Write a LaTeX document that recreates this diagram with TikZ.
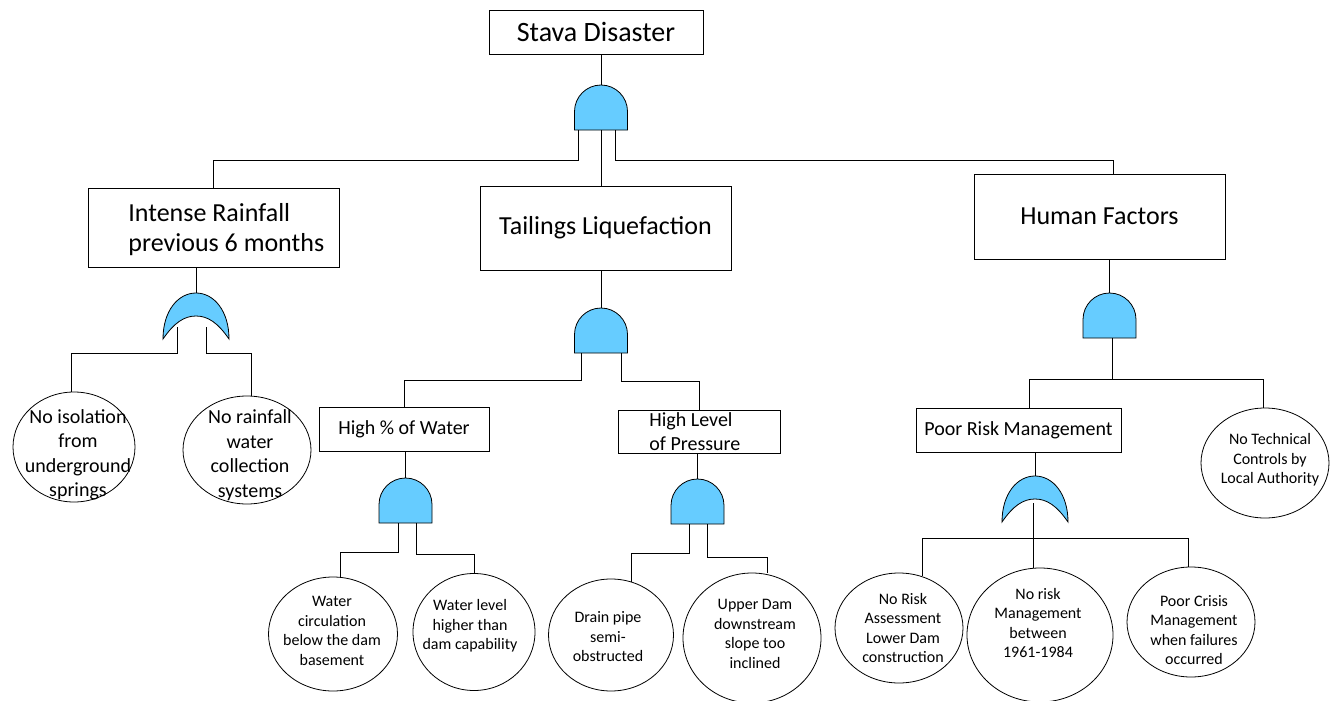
\documentclass[tikz,border=0pt]{standalone}
\usepackage{fontspec}
\setmainfont{Carlito}
\usepackage{tikz}
\usetikzlibrary{shapes.geometric}
\definecolor{gateblue}{RGB}{102,204,255}

\begin{document}
\begin{tikzpicture}[x=1pt, y=-1pt, line width=0.8pt,
    box/.style={draw, rectangle, inner sep=0pt},
    ev/.style={draw, ellipse, inner sep=0pt},
    lbl/.style={inner sep=0pt, align=center},
    toptext/.style={font=\fontsize{28}{32}\selectfont},
    boxtext/.style={font=\fontsize{26}{30}\selectfont},
    subtext/.style={font=\fontsize{20}{24}\selectfont},
    evtext/.style={font=\fontsize{20}{24.5}\selectfont},
    smalltext/.style={font=\fontsize{16}{19.5}\selectfont},
    gatefill/.style={fill=gateblue, draw=black},
    andgate/.pic={
      \draw[gatefill] (-26.5,45) -- (-26.5,26.5) arc (180:360:26.5) -- (26.5,45) -- cycle;
      \coordinate (-top) at (0,0);
      \coordinate (-bot) at (0,45);
    },
    orgate/.pic={
      \draw[gatefill] (-33,46) .. controls (-33,18) and (-18,0) .. (0,0)
        .. controls (18,0) and (33,18) .. (33,46)
        .. controls (22,30) and (12,23) .. (0,23)
        .. controls (-12,23) and (-22,30) .. (-33,46) -- cycle;
      \coordinate (-top) at (0,0);
    }]
    \useasboundingbox (0,0) rectangle (1334,701);

    % top event
    \node[box, toptext, minimum width=214, minimum height=44] (top) at (596,32) {Stava Disaster};
    \pic (g1) at (601,85) {andgate};
    \draw (g1-top |- top.south) -- (g1-top);

    % first level
    \node[box, minimum width=251, minimum height=79] (rain) at (213.5,227.5) {};
    \node[lbl, boxtext, align=left, anchor=west] (rain-t) at (128,230) {Intense Rainfall\\previous 6 months};
    \node[box, boxtext, minimum width=251, minimum height=84] (tail) at (605.5,228) {Tailings Liquefaction};
    \node[box, boxtext, minimum width=251, minimum height=85] (hum) at (1099.5,216.5) {Human Factors};
    \draw ([xshift=-23]g1-bot) -- ++(0,30) -| (rain.north);
    \draw (g1-bot) -- (g1-bot |- tail.north);
    \draw ([xshift=14]g1-bot) -- ++(0,30) -| ([xshift=13.5]hum.north);

    % rainfall branch
    \pic (g2) at (196,293) {orgate};
    \draw (g2-top |- rain.south) -- (g2-top);
    \node[ev, minimum width=122, minimum height=110] (iso) at (74,447) {};
    \node[lbl, evtext] (iso-t) at (78,455) {No isolation\\from\\underground\\springs};
    \node[ev, minimum width=128, minimum height=108] (col) at (247,450) {};
    \node[lbl, evtext] (col-t) at (250,455) {No rainfall\\water\\collection\\systems};
    \draw ([shift={(-19,34)}]g2-top) -- ++(0,26) -| ([xshift=-3]iso.north);
    \draw ([shift={(10,34)}]g2-top) -- ++(0,26) -| ([xshift=4]col.north);

    % liquefaction branch
    \pic (g3) at (601,308) {andgate};
    \draw (g3-top |- tail.south) -- (g3-top);
    \node[box, subtext, minimum width=170, minimum height=44] (water) at (404,429) {High \% of Water};
    \node[box, minimum width=162, minimum height=43] (press) at (699,431.5) {};
    \node[lbl, subtext, align=left, anchor=west] (press-t) at (649,432) {High Level\\of Pressure};
    \draw ([xshift=-20]g3-bot) -- ++(0,27) -| (water.north);
    \draw ([xshift=20]g3-bot) -- ++(0,28) -| (press.north);

    \pic (g4) at (405.5,478) {andgate};
    \draw (g4-top |- water.south) -- (g4-top);
    \node[ev, minimum width=129, minimum height=114] (circ) at (333,634) {};
    \node[lbl, smalltext] (circ-t) at (332,631) {Water\\circulation\\below the dam\\basement};
    \node[ev, minimum width=122, minimum height=117] (lvl) at (474,632) {};
    \node[lbl, smalltext] (lvl-t) at (470,626) {Water level\\higher than\\dam capability};
    \draw ([xshift=-7.5]g4-bot) -- ++(0,29) -| ([xshift=7]circ.north);
    \draw ([xshift=10.5]g4-bot) -- ++(0,31) -| (lvl.north);

    \pic (g5) at (697.5,479) {andgate};
    \draw (g5-top |- press.south) -- (g5-top);
    \node[ev, minimum width=125, minimum height=112] (drain) at (611,635) {};
    \node[lbl, smalltext] (drain-t) at (608,637) {Drain pipe\\semi-\\obstructed};
    \node[ev, minimum width=138, minimum height=130] (upper) at (752,638) {};
    \node[lbl, smalltext] (upper-t) at (755,634) {Upper Dam\\downstream\\slope too\\inclined};
    \draw ([xshift=-8.5]g5-bot) -- ++(0,29) -| (drain.69);
    \draw ([xshift=9.5]g5-bot) -- ++(0,33) -| ([xshift=15]upper.north);

    % human factors branch
    \pic (g6) at (1109.5,293) {andgate};
    \draw (g6-top |- hum.south) -- (g6-top);
    \node[box, subtext, minimum width=205, minimum height=44] (prm) at (1018.5,430) {Poor Risk Management};
    \node[ev, minimum width=128, minimum height=110] (tech) at (1265,463) {};
    \node[lbl, smalltext] (tech-t) at (1270,460) {No Technical\\Controls by\\Local Authority};
    \draw ([xshift=2.5]g6-bot) -- ++(0,42);
    \draw ([xshift=10.5]prm.north) -- ++(0,-28) -| ([xshift=-2]tech.north);

    \pic (g7) at (1035,476) {orgate};
    \draw (g7-top |- prm.south) -- (g7-top);
    \node[ev, minimum width=128, minimum height=110] (nra) at (899,628) {};
    \node[lbl, smalltext] (nra-t) at (903,628) {No Risk\\Assessment\\Lower Dam\\construction};
    \node[ev, minimum width=146, minimum height=134] (nrm) at (1040,635) {};
    \node[lbl, smalltext] (nrm-t) at (1038,623) {No risk\\Management\\between\\1961-1984};
    \node[ev, minimum width=128, minimum height=110] (crisis) at (1191,622) {};
    \node[lbl, smalltext] (crisis-t) at (1194,630) {Poor Crisis\\Management\\when failures\\occurred};
    \draw ([shift={(-2,27)}]g7-top) -- ([xshift=-7]nrm.north);
    \draw (nra.66) -- ++(0,-38) -| ([xshift=-3]crisis.north);
\end{tikzpicture}
\end{document}
